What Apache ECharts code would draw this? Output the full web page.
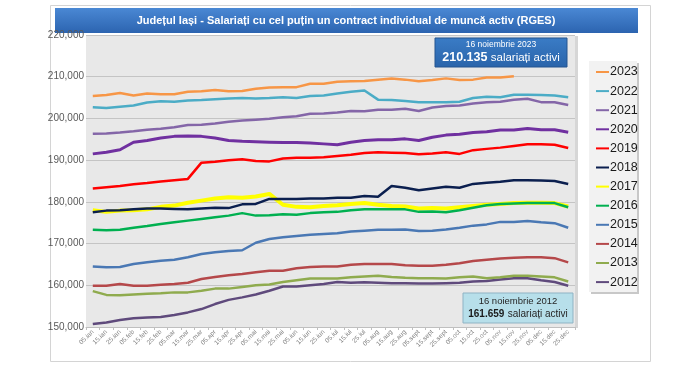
<!DOCTYPE html>
<html>
<head>
<meta charset="utf-8">
<script src="https://cdn.jsdelivr.net/npm/echarts@6/dist/echarts.min.js"></script>
<style>
html,body{margin:0;padding:0;background:#fff;}
#chart{width:700px;height:369px;}
</style>
</head>
<body>
<div id="chart"></div>
<script>
const categories = ['05.ian','15.ian','25.ian','05.feb','15.feb','25.feb','05.mar','15.mar','25.mar','05.apr','15.apr','25.apr','05.mai','15.mai','25.mai','05.iun','15.iun','25.iun','05.iul','15.iul','25.iul','05.aug','15.aug','25.aug','05.sept','15.sept','25.sept','05.oct','15.oct','25.oct','05.nov','15.nov','25.nov','05.dec','15.dec','25.dec'];
const yTicks = [150000,160000,170000,180000,190000,200000,210000,220000];

const y2023 = [205400,205600,206100,205500,206000,205800,205800,206400,206500,206800,206500,206600,207100,207400,207500,207500,208300,208300,208800,208900,209000,209300,209600,209300,208900,209200,209600,209200,209300,209800,209800,210135];
const y2022 = [202700,202500,202800,203100,203800,204100,204000,204300,204400,204600,204800,204900,204800,204900,205100,204900,205400,205500,206000,206400,206700,204500,204400,204200,203900,203900,203900,204000,204900,205200,205100,205700,205700,205600,205500,205100];
const y2021 = [196300,196400,196600,196900,197300,197500,197900,198400,198500,198800,199200,199500,199700,199900,200300,200500,201100,201200,201400,201800,201700,202100,202100,202300,201800,202600,203000,203100,203600,203900,204000,204500,204700,203900,203900,203200];
const y2020 = [191500,191900,192500,194300,194700,195300,195700,195800,195700,195300,194700,194500,194400,194300,194200,194200,194100,193900,193700,194300,194700,194900,194900,195100,194700,195500,196000,196200,196600,196800,197200,197200,197600,197300,197300,196700];
const y2019 = [183200,183500,183800,184200,184500,184900,185200,185500,189400,189600,190000,190200,189800,189700,190400,190600,190600,190700,191000,191300,191700,191900,191800,191700,191400,191600,191900,191500,192400,192700,193000,193400,193800,193800,193700,192900];
const y2018 = [177500,177900,178000,178200,178400,178400,178300,178200,178400,178600,178500,179400,179500,180700,180700,180700,180800,180800,181000,181000,181400,181200,183800,183400,182800,183200,183600,183400,184300,184600,184800,185200,185200,185100,185000,184300];
const y2017 = [178000,177600,177900,178000,178200,178800,179100,179800,180300,180800,181100,181000,181300,181900,179300,178800,178700,179000,179200,179500,179700,179300,179000,178900,178400,178500,178400,178700,179000,179300,179500,179700,179800,179800,179700,178900];
const y2016 = [173300,173200,173300,173800,174200,174700,175100,175500,175900,176300,176700,177300,176700,176800,177000,176900,177300,177500,177600,178000,178200,178200,178200,178200,177600,177700,177500,178000,178600,179200,179500,179600,179700,179700,179700,178700];
const y2015 = [164500,164300,164400,165100,165500,165900,166100,166700,167500,167900,168200,168400,170200,171100,171500,171800,172100,172300,172500,172900,173100,173300,173300,173400,173000,173100,173400,173800,174300,174600,175200,175200,175400,175100,174900,173800];
const y2014 = [159900,159900,160300,159900,159900,160100,160300,160600,161500,162000,162400,162700,163100,163500,163500,164100,164400,164500,164500,164900,165100,165100,165100,164800,164700,164700,164900,165300,165800,166100,166400,166600,166700,166700,166500,165500];
const y2013 = [158600,157700,157600,157800,158000,158100,158300,158300,158700,159200,159200,159600,160000,160200,160800,161200,161600,161600,161600,161900,162100,162300,162000,161800,161700,161700,161600,161900,162100,161700,161900,162300,162300,162100,161900,160900];
const y2012 = [150700,151100,151700,152100,152300,152400,152900,153500,154300,155500,156500,157100,157800,158700,159700,159700,160000,160300,160800,160600,160700,160600,160500,160500,160400,160400,160500,160600,160900,161000,161400,161659,161700,161200,160800,159900];

const seriesDefs = [
  ['2017', y2017, '#ffff00', 4],
  ['2012', y2012, '#5f4a7c', 2.5],
  ['2013', y2013, '#8fab4e', 2.5],
  ['2014', y2014, '#b5484a', 2.5],
  ['2015', y2015, '#4a78b4', 2.5],
  ['2016', y2016, '#00b050', 2.5],
  ['2018', y2018, '#0b1f4f', 2.5],
  ['2019', y2019, '#ff0000', 2.5],
  ['2020', y2020, '#7030a0', 3],
  ['2021', y2021, '#8466a8', 2.5],
  ['2022', y2022, '#4bacc6', 2.5],
  ['2023', y2023, '#f79646', 2.5]
];
const legendOrder = ['2023','2022','2021','2020','2019','2018','2017','2016','2015','2014','2013','2012'];

const chart = echarts.init(document.getElementById('chart'), null, {renderer:'canvas'});
const font = 'Liberation Sans, Arial, sans-serif';
chart.setOption({
  animation:false,
  backgroundColor:'#ffffff',
  textStyle:{fontFamily:font},
  grid:{left:86, right:125, top:35, bottom:42, show:true, backgroundColor:'#e8e8e8', borderWidth:0},
  xAxis:{
    type:'category', data:categories, boundaryGap:true,
    axisLine:{show:true, lineStyle:{color:'#bfbfbf'}},
    axisTick:{show:true, length:3, lineStyle:{color:'#bfbfbf'}},
    axisLabel:{interval:0, rotate:45, fontSize:6.5, color:'#808080', margin:4}
  },
  yAxis:{
    type:'value', min:yTicks[0], max:yTicks[yTicks.length-1], interval:10000,
    axisLine:{show:false}, axisTick:{show:false},
    splitLine:{lineStyle:{color:'#c4c4c4', width:1}},
    axisLabel:{fontSize:10, color:'#595959', margin:2}
  },
  legend:{
    orient:'vertical', left:591, top:59, data:legendOrder,
    icon:'rect', itemWidth:13, itemHeight:2, itemGap:3.1,
    textStyle:{fontSize:12.5, color:'#1a1a1a', lineHeight:16, padding:[0,0,0,-4], fontFamily:font},
    selectedMode:false
  },
  series: seriesDefs.map(([name, data, color, w]) => ({
    name, type:'line', data, showSymbol:false, symbol:'none',
    lineStyle:{color, width:w}, itemStyle:{color}, z:2
  })),
  graphic:[
    {type:'rect', z:-10, silent:true, shape:{x:50.5,y:5.5,width:600,height:356}, style:{fill:'#fff', stroke:'#d4d4d4', lineWidth:1}},
    {type:'rect', z:-5, silent:true, shape:{x:55,y:8,width:583,height:25},
      style:{fill:new echarts.graphic.LinearGradient(0,0,0,1,[{offset:0,color:'#4a88d4'},{offset:1,color:'#2c64b0'}])}},
    {type:'text', z:10, silent:true, x:346, y:20.5,
      style:{text:'Județul Iași - Salariați cu cel puțin un contract individual de muncă activ (RGES)', fill:'#ffffff', font:'bold 11px "Liberation Sans", sans-serif', align:'center', verticalAlign:'middle'}},
    {type:'rect', z:-8, silent:true, shape:{x:575,y:36,width:3,height:292}, style:{fill:'#d6d6d6'}},
    {type:'rect', z:-6, silent:true, shape:{x:591,y:63,width:48,height:231}, style:{fill:'#c8c8c8'}},
    {type:'rect', z:-5, silent:true, shape:{x:589,y:61,width:48,height:231}, style:{fill:'#f2f2f2'}},
    {type:'rect', z:20, silent:true, shape:{x:435,y:38,width:132,height:29},
      style:{fill:new echarts.graphic.LinearGradient(0,0,0,1,[{offset:0,color:'#3a7cc6'},{offset:1,color:'#2a64aa'}]), stroke:'#24558f', lineWidth:1}},
    {type:'text', z:21, silent:true, x:501, y:45,
      style:{text:'16 noiembrie 2023', fill:'#ffffff', font:'8.5px "Liberation Sans", sans-serif', align:'center', verticalAlign:'middle'}},
    {type:'text', z:21, silent:true, x:501, y:58,
      style:{text:'{b|210.135} {c|salariați activi}', align:'center', verticalAlign:'middle',
        rich:{b:{fill:'#ffffff', fontSize:12.5, fontWeight:'bold', fontFamily:'Liberation Sans'}, c:{fill:'#ffffff', fontSize:11.5, fontFamily:'Liberation Sans'}}}},
    {type:'rect', z:20, silent:true, shape:{x:463,y:293,width:110,height:30},
      style:{fill:'#b7dfea', stroke:'#8fb3c4', lineWidth:1}},
    {type:'text', z:21, silent:true, x:518, y:301,
      style:{text:'16 noiembrie 2012', fill:'#262626', font:'9.5px "Liberation Sans", sans-serif', align:'center', verticalAlign:'middle'}},
    {type:'text', z:21, silent:true, x:518, y:314,
      style:{text:'{b|161.659} {c|salariați activi}', align:'center', verticalAlign:'middle',
        rich:{b:{fill:'#1a1a1a', fontSize:10, fontWeight:'bold', fontFamily:'Liberation Sans'}, c:{fill:'#262626', fontSize:10, fontFamily:'Liberation Sans'}}}}
  ]
});
</script>
</body>
</html>
